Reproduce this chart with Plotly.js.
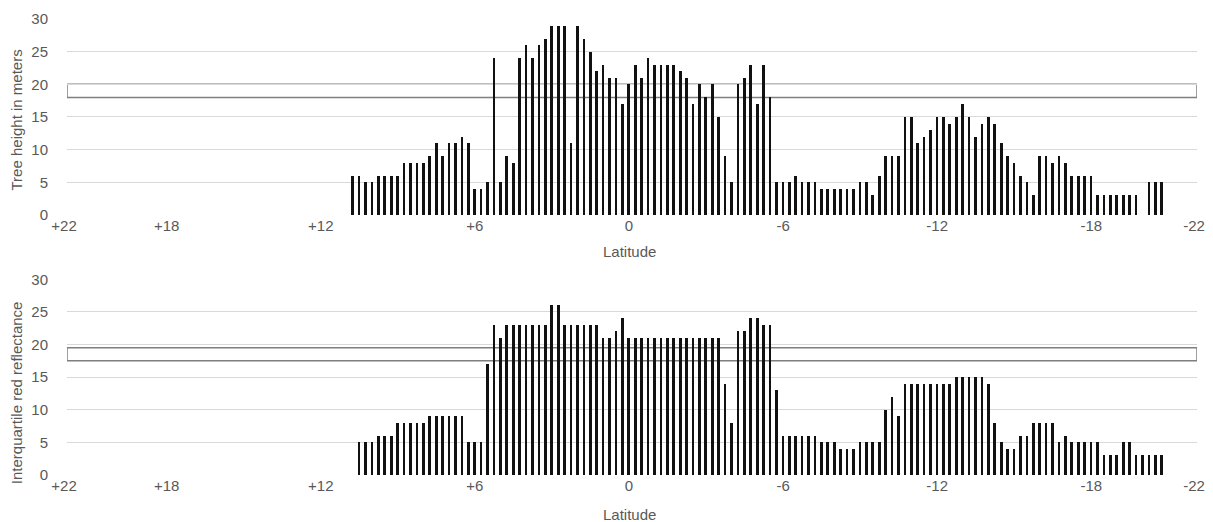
<!DOCTYPE html>
<html>
<head>
<meta charset="utf-8">
<script src="https://cdn.plot.ly/plotly-3.0.1.min.js"></script>
<style>html,body{margin:0;padding:0;background:#fff;}#chart{width:1213px;height:522px;}</style>
</head>
<body>
<div id="chart"></div>
<script>
// Latitude bins (0.25 degree), first bin centre and step for each series
const heightLatStart = 10.875;
const reflLatStart = 10.625;
const latStep = 0.25;

// Tree height in meters, from north (+10.875) to south (-20.625)
const treeHeight = [
  6,6,5,5,6,6,6,6,8,8,8,8,9,11,9,11,11,12,11,4,4,5,24,5,9,8,24,26,24,26,27,29,
  29,29,11,29,27,25,22,23,21,21,17,20,23,21,24,23,23,23,23,22,21,17,20,18,20,15,9,5,20,21,23,17,23,
  18,5,5,5,6,5,5,5,4,4,4,4,4,4,5,5,3,6,9,9,9,15,15,11,12,13,15,15,14,15,17,15,12,
  14,15,14,11,9,8,6,5,3,9,9,8,9,8,6,6,6,6,3,3,3,3,3,3,3,0,5,5,5
];

// Interquartile red reflectance, from north (+10.625) to south (-20.625)
const redReflectance = [
  5,5,5,6,6,6,8,8,8,8,8,9,9,9,9,9,9,5,5,5,17,23,21,23,23,23,23,23,23,23,26,
  26,23,23,23,23,23,23,21,21,22,24,21,21,21,21,21,21,21,21,21,21,21,21,21,21,21,14,8,22,22,24,24,23,
  23,13,6,6,6,6,6,6,5,5,5,4,4,4,5,5,5,5,10,12,9,14,14,14,14,14,14,14,14,15,15,15,15,
  15,14,8,5,4,4,6,6,8,8,8,8,5,6,5,5,5,5,5,3,3,3,5,5,3,3,3,3,3
];

const tickValues = [22, 18, 12, 6, 0, -6, -12, -18, -22];
const tickLabels = ['+22', '+18', '+12', '+6', '0', '-6', '-12', '-18', '-22'];

const xTitle = 'Latitude';
const yTitleTop = 'Tree height in meters';
const yTitleBottom = 'Interquartile red reflectance';

// Reference bands (y ranges)
const heightBand = [18, 20];
const reflBand = [17.5, 19.5];

function lats(start, n) {
  const out = [];
  for (let i = 0; i < n; i++) out.push(start - i * latStep);
  return out;
}

const font = {family: 'Liberation Sans, Arial, sans-serif', size: 15, color: '#595959'};

const barStyle = {type: 'bar', marker: {color: '#111111', line: {width: 0}}, width: 0.105, hoverinfo: 'x+y'};

const traces = [
  Object.assign({}, barStyle, {x: lats(heightLatStart, treeHeight.length), y: treeHeight, xaxis: 'x', yaxis: 'y', name: 'Tree height'}),
  Object.assign({}, barStyle, {x: lats(reflLatStart, redReflectance.length), y: redReflectance, xaxis: 'x2', yaxis: 'y2', name: 'Red reflectance'})
];

function xax(anchor) {
  return {
    anchor: anchor, domain: [0, 1], range: [22, -22], autorange: false,
    tickmode: 'array', tickvals: tickValues, ticktext: tickLabels,
    showgrid: false, zeroline: false, showline: false, ticks: '',
    ticklabelshift: 3, tickfont: font
  };
}
function yax(anchor, domain) {
  return {
    anchor: anchor, domain: domain, range: [0, 30], autorange: false,
    dtick: 5, tick0: 0, showgrid: true, gridcolor: '#d9d9d9', gridwidth: 1,
    zeroline: false, showline: false, ticks: '', ticklabelstandoff: 18,
    tickfont: font
  };
}

function title(text, x, y, angle) {
  return {text: text, xref: 'paper', yref: 'paper', x: x, y: y, xanchor: 'center', yanchor: 'middle',
          textangle: angle, showarrow: false, font: font};
}

const layout = {
  width: 1213, height: 522,
  margin: {l: 67, r: 16, t: 19, b: 47},
  paper_bgcolor: '#ffffff', plot_bgcolor: '#ffffff',
  showlegend: false, bargap: 0,
  font: font,
  xaxis: xax('y'),
  yaxis: yax('x', [0.5702, 1]),
  xaxis2: xax('y2'),
  yaxis2: yax('x2', [0, 0.4292]),
  annotations: [
    title(xTitle, 0.4975, 0.4912, 0),
    title(xTitle, 0.4975, -0.0877, 0),
    title(yTitleTop, -0.0447, 0.7785, -90),
    title(yTitleBottom, -0.0447, 0.1805, -90)
  ],
  shapes: [
    {type: 'rect', xref: 'x', yref: 'y', x0: 22, x1: -22, y0: heightBand[0], y1: heightBand[1],
     line: {color: '#7f7f7f', width: 1.5}, fillcolor: 'rgba(0,0,0,0)', layer: 'below'},
    {type: 'rect', xref: 'x2', yref: 'y2', x0: 22, x1: -22, y0: reflBand[0], y1: reflBand[1],
     line: {color: '#7f7f7f', width: 1.5}, fillcolor: 'rgba(0,0,0,0)', layer: 'below'}
  ]
};

Plotly.newPlot('chart', traces, layout, {displayModeBar: false, staticPlot: true});
</script>
</body>
</html>
